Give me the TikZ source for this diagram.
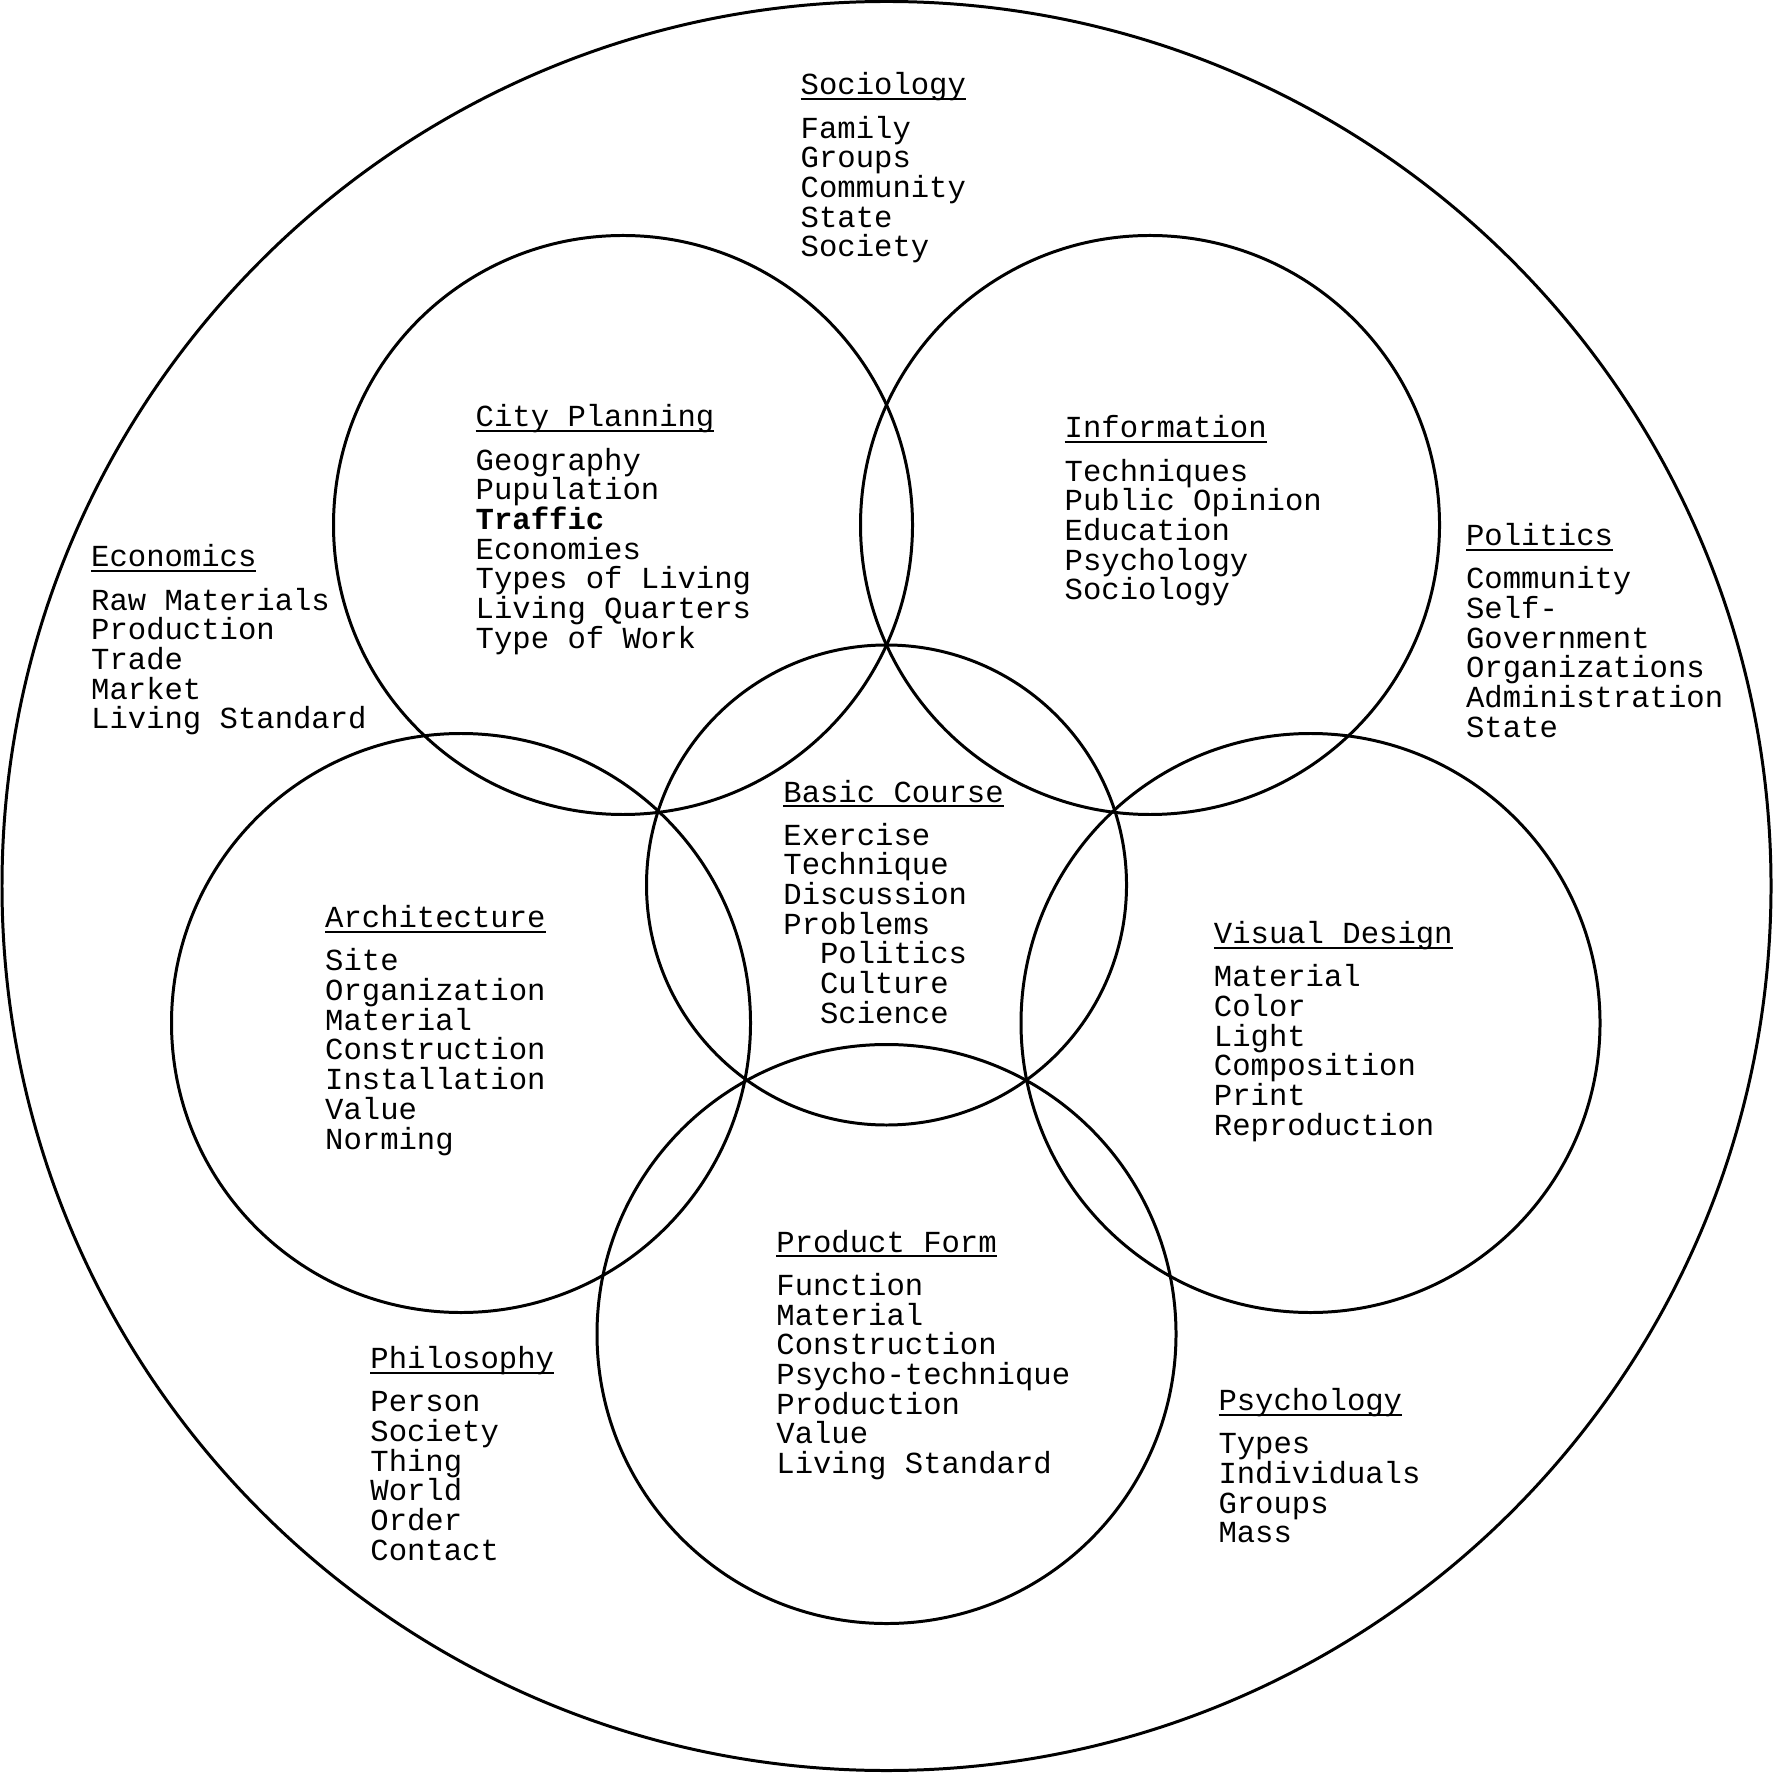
\documentclass[tikz,border=0pt]{standalone}
\usepackage{fontspec}
\newfontfamily\cour{Liberation Mono}
\newcommand\hdul[1]{\setbox0\hbox{#1}\rlap{\rule[-1.45pt]{\wd0}{0.6pt}}\box0}
\newcommand\ind{\hspace*{1.2em}}
\tikzset{
  blk/.style={font=\cour\fontsize{8.7}{8.45}\selectfont, align=left, text width=7cm, anchor=base west, inner sep=0pt,
    execute at begin node={\spaceskip=0.6em\relax\xspaceskip=0.6em\relax}},
  ring/.style={line width=0.85pt, draw=black}
}
\begin{document}
\begin{tikzpicture}[x=0.01cm,y=-0.01cm]
\useasboundingbox (0,0) rectangle (1773,1774);
\fill[white] (0,0) rectangle (1773,1774);
% circle centres
\coordinate (outer) at (886.5,886);
\coordinate (ccp) at (623,525);
\coordinate (cin) at (1150,525);
\coordinate (cbc) at (886.5,885);
\coordinate (car) at (461,1023);
\coordinate (cvd) at (1310.5,1023);
\coordinate (cpf) at (886.5,1334);
\draw[ring] (outer) circle[radius=884.5];
\draw[ring] (ccp) circle[radius=289.5];
\draw[ring] (cin) circle[radius=289.5];
\draw[ring] (cbc) circle[radius=240];
\draw[ring] (car) circle[radius=289.5];
\draw[ring] (cvd) circle[radius=289.5];
\draw[ring] (cpf) circle[radius=289.5];
% text blocks
\node[blk] (soc) at (800,95) {\hdul{Sociology}\\[3.8pt]Family\\Groups\\Community\\State\\Society};
\node[blk] (cit) at (475,427) {\hdul{City Planning}\\[3.8pt]Geography\\Pupulation\\\textbf{Traffic}\\Economies\\Types of Living\\Living Quarters\\Type of Work};
\node[blk] (inf) at (1064,438) {\hdul{Information}\\[3.8pt]Techniques\\Public Opinion\\Education\\Psychology\\Sociology};
\node[blk] (eco) at (90.5,567) {\hdul{Economics}\\[3.8pt]Raw Materials\\Production\\Trade\\Market\\Living Standard};
\node[blk] (pol) at (1465.4,545.6) {\hdul{Politics}\\[3.8pt]Community\\Self-\\Government\\Organizations\\Administration\\State};
\node[blk] (bas) at (782.7,802) {\hdul{Basic Course}\\[3.8pt]Exercise\\Technique\\Discussion\\Problems\\\ind Politics\\\ind Culture\\\ind Science};
\node[blk] (arc) at (324.5,927.7) {\hdul{Architecture}\\[3.8pt]Site\\Organization\\Material\\Construction\\Installation\\Value\\Norming};
\node[blk] (vis) at (1213.2,943.6) {\hdul{Visual Design}\\[3.8pt]Material\\Color\\Light\\Composition\\Print\\Reproduction};
\node[blk] (pro) at (775.7,1252.3) {\hdul{Product Form}\\[3.8pt]Function\\Material\\Construction\\Psycho-technique\\Production\\Value\\Living Standard};
\node[blk] (phi) at (369.7,1368.7) {\hdul{Philosophy}\\[3.8pt]Person\\Society\\Thing\\World\\Order\\Contact};
\node[blk] (psy) at (1217.8,1410.6) {\hdul{Psychology}\\[3.8pt]Types\\Individuals\\Groups\\Mass};
\end{tikzpicture}
\end{document}
